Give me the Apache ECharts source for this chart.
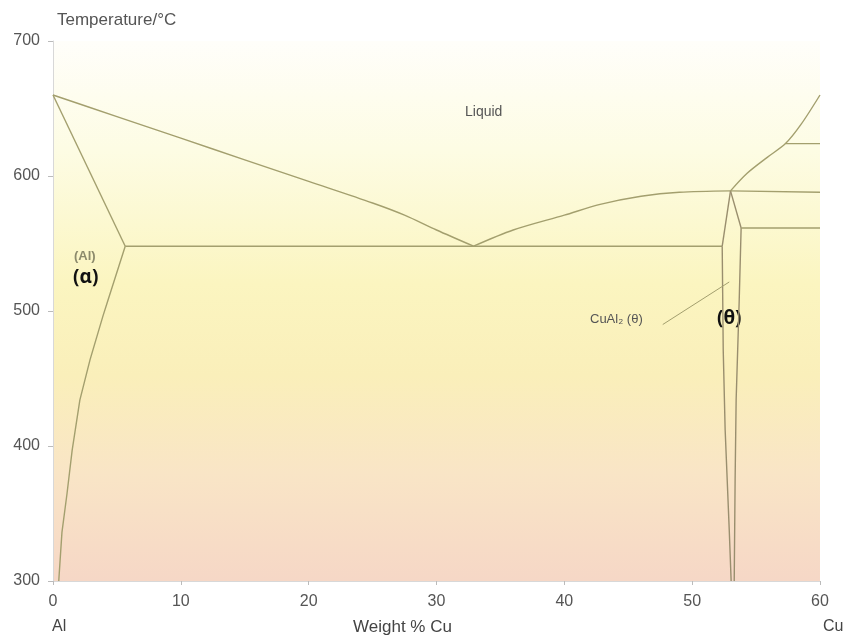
<!DOCTYPE html>
<html><head><meta charset="utf-8">
<script src="https://cdn.jsdelivr.net/npm/echarts@6/dist/echarts.min.js"></script>
<style>html,body{margin:0;padding:0;background:#fff}#c{width:847px;height:637px}</style>
</head><body><div id="c"></div>
<script>
// ---- data (weight % Cu, temperature °C) ----
const xTicks = [0, 10, 20, 30, 40, 50, 60];
const yTicks = [300, 400, 500, 600, 700];
const liquidusAl = [[0,660],[5,644],[10,628],[15,612],[20,596],[25,580],[27.5,571],[30,560],[32.9,548]];
const solidusAl = [[0,660],[5.65,548]];
const solvusAl = [[5.65,548],[4.3,508],[3.9,496],[2.9,464],[2.1,434],[1.5,397],[1.1,365],[0.7,336],[0.45,300]];
const eutectic = [[5.65,548],[52.35,548]];
const liquidusTheta = [[32.9,548],[36,560],[40,571],[42.8,579],[46,585],[49,588],[53,589]];
const liquidusCu = [[53,589],[54.3,602],[55.9,614],[57.3,624],[58.5,638],[60,660]];
const thetaLeftTop = [[53,589],[52.35,548]];
const thetaLeft = [[52.35,548],[52.43,471],[52.58,412],[52.74,375],[52.9,338],[53.05,300]];
const thetaRightTop = [[53,589],[53.83,561.5]];
const thetaRight = [[53.83,561.5],[53.68,508],[53.44,434],[53.36,375],[53.29,300]];
const iso624 = [[57.3,624],[60,624]];
const iso589 = [[53,589],[60,588]];
const iso562 = [[53.83,561.5],[60,561.5]];
const leader = [[47.7,490],[52.9,521.5]];

const chart = echarts.init(document.getElementById('c'), null, {renderer:'canvas'});
const lineColor = '#a39f6e';
function ln(data, color, w, smooth){
  return {type:'line', data:data, showSymbol:false, symbol:'none', silent:true,
    smooth: smooth||false,
    lineStyle:{color:color||lineColor, width:w||1.4}, animation:false};
}
const FONT = 'Liberation Sans, Arial, sans-serif';
chart.setOption({
  animation:false,
  grid:{left:53, right:27, top:41, bottom:56, show:true, borderWidth:0,
    backgroundColor:{type:'linear', x:0, y:0, x2:0, y2:1, colorStops:[
      {offset:0, color:'#fffefa'},
      {offset:0.2, color:'#fdfce4'},
      {offset:0.45, color:'#fbf5c0'},
      {offset:0.62, color:'#faefba'},
      {offset:0.8, color:'#f9e5c6'},
      {offset:1, color:'#f6d7c6'}]}},
  xAxis:{type:'value', min:0, max:60, interval:10,
    axisLine:{show:true, lineStyle:{color:'#d8d8d8'}},
    axisTick:{show:true, length:4, lineStyle:{color:'#bbb'}},
    splitLine:{show:false},
    axisLabel:{color:'#555', fontSize:16, fontFamily:FONT, margin:13,
      formatter:v=>xTicks.includes(v)?String(v):''}},
  yAxis:{type:'value', min:300, max:700, interval:100,
    name:'Temperature/°C', nameLocation:'end', nameGap:21,
    nameTextStyle:{color:'#555', fontSize:17, fontFamily:FONT, align:'left', verticalAlign:'middle', padding:[0,0,0,4]},
    axisLine:{show:true, lineStyle:{color:'#d8d8d8'}},
    axisTick:{show:true, length:5, lineStyle:{color:'#bbb'}},
    splitLine:{show:false},
    axisLabel:{color:'#555', fontSize:16, fontFamily:FONT, margin:13,
      formatter:v=>yTicks.includes(v)?String(v):''}},
  series:[
    ln(liquidusAl,null,null,0.3), ln(solidusAl), ln(solvusAl), ln(eutectic),
    ln(liquidusTheta,null,null,0.3), ln(liquidusCu,null,null,0.3),
    ln(thetaLeftTop,'#998e6e'), ln(thetaLeft,'#998e6e'),
    ln(thetaRightTop,'#998e6e'), ln(thetaRight,'#998e6e'),
    ln(iso624), ln(iso589), ln(iso562),
    ln(leader,'#a39f6e',1)
  ],
  graphic:[
    {type:'text', left:465, top:105, style:{text:'Liquid', fill:'#555', font:'14px '+FONT}},
    {type:'text', left:74, top:250, style:{text:'(Al)', fill:'#8c8a6c', font:'bold 13px '+FONT}},
    {type:'text', left:73, top:268, style:{text:'(α)', fill:'#111', font:'bold 19px Noto Sans, sans-serif'}},
    {type:'text', left:590, top:313, style:{text:'CuAl₂ (θ)', fill:'#555', font:'13px '+FONT}},
    {type:'text', left:717, top:309, style:{text:'(θ)', fill:'#111', font:'bold 19px Noto Sans, sans-serif'}},
    {type:'text', left:52, top:619, style:{text:'Al', fill:'#444', font:'16px '+FONT}},
    {type:'text', left:353, top:619, style:{text:'Weight % Cu', fill:'#444', font:'17px '+FONT}},
    {type:'text', left:823, top:619, style:{text:'Cu', fill:'#444', font:'16px '+FONT}}
  ]
});
</script></body></html>
